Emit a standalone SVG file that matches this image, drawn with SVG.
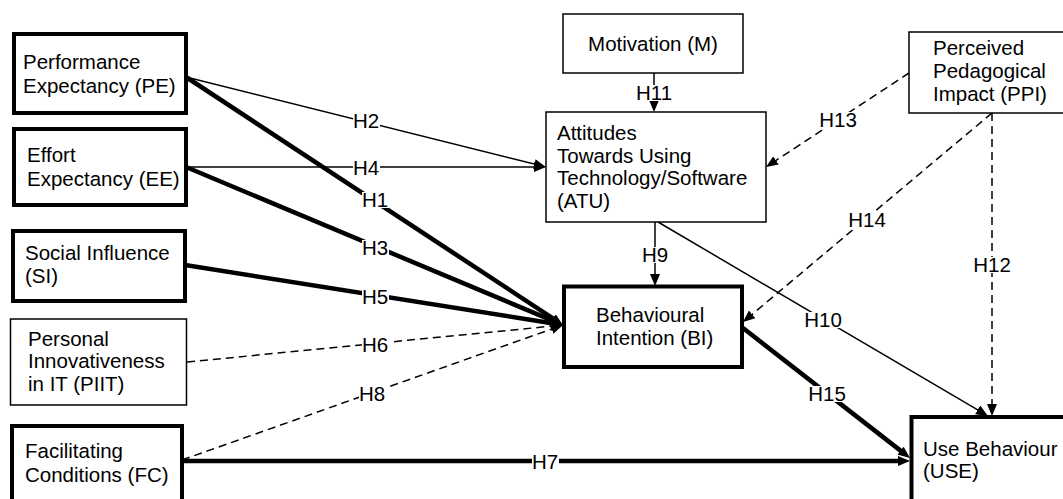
<svg xmlns="http://www.w3.org/2000/svg" width="1063" height="499" viewBox="0 0 1063 499">
<style>
text{font-family:"Liberation Sans",Arial,sans-serif;font-size:20.5px;fill:#000}
.thick{fill:#fff;stroke:#000;stroke-width:4}
.thin{fill:#fff;stroke:#000;stroke-width:1.5}
.c{fill:none;stroke:#000;stroke-width:1.5}
.cb{fill:none;stroke:#000;stroke-width:4.5}
.cd{fill:none;stroke:#000;stroke-width:1.5;stroke-dasharray:8 5}
.lb{fill:#fff;stroke:none}
.m{text-anchor:middle}
</style>
<defs>
<marker id="a" markerUnits="userSpaceOnUse" markerWidth="13" markerHeight="11" refX="4" refY="5" orient="auto" viewBox="0 0 13 10">
<path d="M0,0 L12,5 L0,10 z" fill="#000"/>
</marker>
</defs>
<rect width="1063" height="499" fill="#fff"/>

<g id="connectors">
<line class="c" x1="186" y1="77" x2="538.2" y2="165.1" marker-end="url(#a)"/>
<line class="c" x1="186" y1="167" x2="538" y2="167" marker-end="url(#a)"/>
<line class="cb" x1="186" y1="77" x2="556.3" y2="320.6" marker-end="url(#a)"/>
<line class="cb" x1="186" y1="167" x2="555.6" y2="321.9" marker-end="url(#a)"/>
<line class="cb" x1="185" y1="265" x2="555.1" y2="323.7" marker-end="url(#a)"/>
<line class="cd" x1="187" y1="362" x2="555" y2="325.8" marker-end="url(#a)"/>
<line class="cd" x1="182" y1="460" x2="555.5" y2="327.7" marker-end="url(#a)"/>
<line class="cb" x1="182" y1="461" x2="902" y2="461" marker-end="url(#a)"/>
<line class="c" x1="654" y1="73" x2="654" y2="104" marker-end="url(#a)"/>
<line class="c" x1="655" y1="222" x2="655" y2="278" marker-end="url(#a)"/>
<line class="c" x1="658" y1="222" x2="981.1" y2="411.9" marker-end="url(#a)"/>
<line class="cb" x1="743" y1="328" x2="903.7" y2="453.1" marker-end="url(#a)"/>
<line class="cd" x1="992" y1="113" x2="992" y2="408" marker-end="url(#a)"/>
<line class="cd" x1="909" y1="73" x2="772.7" y2="162.6" marker-end="url(#a)"/>
<line class="cd" x1="992" y1="113" x2="749.1" y2="316.9" marker-end="url(#a)"/>

<rect class="lb" x="353" y="113" width="27" height="16"/><text class="m" x="366" y="128">H2</text>
<rect class="lb" x="353" y="160" width="27" height="16"/><text class="m" x="366" y="175">H4</text>
<rect class="lb" x="362" y="192" width="27" height="16"/><text class="m" x="375" y="207">H1</text>
<rect class="lb" x="362" y="240" width="27" height="16"/><text class="m" x="375" y="255">H3</text>
<rect class="lb" x="362" y="289" width="27" height="16"/><text class="m" x="375" y="304">H5</text>
<rect class="lb" x="362" y="337" width="27" height="16"/><text class="m" x="375" y="352">H6</text>
<rect class="lb" x="359" y="386" width="27" height="16"/><text class="m" x="372" y="401">H8</text>
<rect class="lb" x="532" y="454" width="27" height="16"/><text class="m" x="545" y="469">H7</text>
<rect class="lb" x="635" y="85" width="38" height="16"/><text class="m" x="654" y="100">H11</text>
<rect class="lb" x="642" y="247" width="27" height="16"/><text class="m" x="655" y="262">H9</text>
<rect class="lb" x="804" y="312" width="38" height="16"/><text class="m" x="823" y="327">H10</text>
<rect class="lb" x="808" y="386" width="38" height="16"/><text class="m" x="827" y="401">H15</text>
<rect class="lb" x="973" y="257" width="38" height="16"/><text class="m" x="992" y="272">H12</text>
<rect class="lb" x="819" y="112" width="38" height="16"/><text class="m" x="838" y="127">H13</text>
<rect class="lb" x="848" y="212" width="38" height="16"/><text class="m" x="867" y="227">H14</text>
</g>

<g id="PE"><rect class="thick" x="14" y="34" width="172" height="79"/>
<text x="23" y="69">Performance</text><text x="23" y="93">Expectancy (PE)</text></g>
<g id="EE"><rect class="thick" x="14" y="129" width="172" height="76"/>
<text x="27" y="162">Effort</text><text x="27" y="186">Expectancy (EE)</text></g>
<g id="SI"><rect class="thick" x="13" y="231" width="172" height="70"/>
<text x="25" y="260">Social Influence</text><text x="25" y="283">(SI)</text></g>
<g id="PIIT"><rect class="thin" x="10.5" y="319" width="176" height="86"/>
<text x="28" y="346">Personal</text><text x="28" y="368">Innovativeness</text><text x="28" y="391">in IT (PIIT)</text></g>
<g id="FC"><rect class="thick" x="12" y="426" width="170" height="100"/>
<text x="25" y="458">Facilitating</text><text x="25" y="482">Conditions (FC)</text></g>
<g id="M"><rect class="thin" x="563" y="14" width="180" height="59"/>
<text class="m" x="653" y="51">Motivation (M)</text></g>
<g id="ATU"><rect class="thin" x="546" y="112" width="220" height="110"/>
<text x="557" y="140">Attitudes</text><text x="557" y="162.5">Towards Using</text><text x="557" y="185">Technology/Software</text><text x="557" y="207.5">(ATU)</text></g>
<g id="PPI"><rect class="thin" x="909" y="32" width="170" height="81"/>
<text x="933" y="55">Perceived</text><text x="933" y="78">Pedagogical</text><text x="933" y="101">Impact (PPI)</text></g>
<g id="BI"><rect class="thick" x="564" y="286.5" width="178" height="80.5"/>
<text x="596" y="322">Behavioural</text><text x="596" y="345">Intention (BI)</text></g>
<g id="USE"><rect class="thick" x="911.5" y="417" width="170" height="100"/>
<text x="923" y="456">Use Behaviour</text><text x="923" y="478">(USE)</text></g>
</svg>
